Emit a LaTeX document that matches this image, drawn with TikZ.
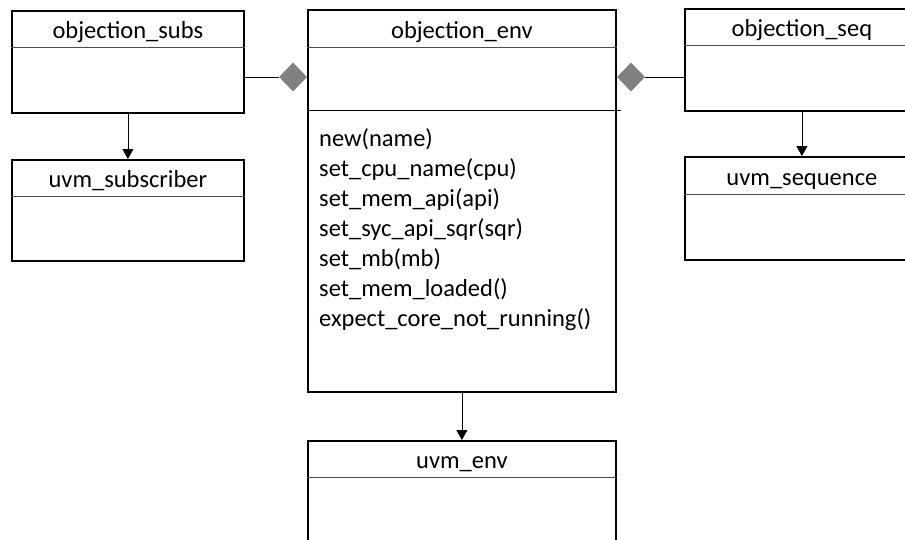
\documentclass[tikz,border=0pt]{standalone}
\usepackage{fontspec}
\setmainfont{Carlito}
\usepackage{tikz}
\usetikzlibrary{arrows.meta}
\usetikzlibrary{positioning}
\usetikzlibrary{shapes.geometric}
\tikzset{>=latex}
\tikzstyle{cls} = [draw, line width=1.8pt, anchor=north west, inner sep=0, minimum height=102]
\tikzstyle{ttl} = [draw=none, inner sep=0, minimum height=37, text height=22, text depth=2, font=\fontsize{24.5}{30}\selectfont]
\tikzstyle{sep} = [line width=0.8pt, draw=black!70]
\tikzstyle{agg} = [diamond, fill=black!50, draw=none, inner sep=0, minimum width=28, minimum height=29]
\tikzstyle{inh} = [-{Triangle[length=10pt,width=11pt]}, line width=0.8pt]

\begin{document}
\begin{tikzpicture}[x=1pt, y=-1pt]
\clip (0,0) rectangle (905,539);
% class boxes
\node [cls, minimum width=232] (subs) at (11,10) {};
\node [cls, minimum width=232, minimum height=101] (subscr) at (11,159) {};
\node [cls, minimum width=308, minimum height=382] (env) at (307,9) {};
\node [cls, minimum width=234] (seq) at (684,8) {};
\node [cls, minimum width=234, minimum height=103] (sequence) at (684,156) {};
\node [cls, minimum width=308, minimum height=130] (uenv) at (307,440) {};
% class names
\node [ttl, below=0pt of subs.north] (subsT) {objection\_subs};
\node [ttl, below=0pt of subscr.north] (subscrT) {uvm\_subscriber};
\node [ttl, below=0pt of env.north, minimum height=38] (envT) {objection\_env};
\node [ttl, below=0pt of seq.north] (seqT) {objection\_seq};
\node [ttl, below=0pt of sequence.north, minimum height=38] (sequenceT) {uvm\_sequence};
\node [ttl, below=0pt of uenv.north] (uenvT) {uvm\_env};
\draw [sep] (subsT.south -| subs.west) -- (subsT.south -| subs.east);
\draw [sep] (subscrT.south -| subscr.west) -- (subscrT.south -| subscr.east);
\draw [sep] (envT.south -| env.west) -- (envT.south -| env.east);
\draw [sep] (seqT.south -| seq.west) -- (seqT.south -| seq.east);
\draw [sep] (sequenceT.south -| sequence.west) -- (sequenceT.south -| sequence.east);
\draw [sep] (uenvT.south -| uenv.west) -- (uenvT.south -| uenv.east);
% operations of objection_env
\coordinate (envM) at (461,110);
\draw [sep, draw=black, shorten >=-4pt] (envM -| env.west) -- (envM -| env.east);
\node [anchor=north west, inner sep=0, align=left, font=\fontsize{24.5}{30}\selectfont] (ops) at (319,128)
  {new(name)\\
   set\_cpu\_name(cpu)\\
   set\_mem\_api(api)\\
   set\_syc\_api\_sqr(sqr)\\
   set\_mb(mb)\\
   set\_mem\_loaded()\\
   expect\_core\_not\_running()};
% aggregation
\node [agg] (aggL) at (293,77) {};
\node [agg] (aggR) at (631,77) {};
\draw [line width=0.8pt] (subs.east |- aggL) -- (aggL.west);
\draw [line width=0.8pt] (aggR.east) -- (seq.west |- aggR);
% inheritance
\draw [inh] (subs.south) -- (subscr.north);
\draw [inh] (seq.south) -- (sequence.north);
\draw [inh] (env.south) -- (uenv.north);
\end{tikzpicture}
\end{document}
